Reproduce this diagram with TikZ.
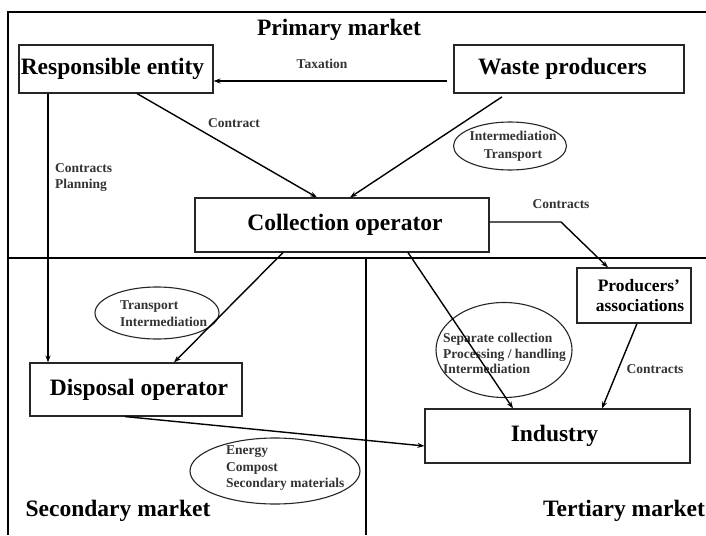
\documentclass[tikz,border=0pt]{standalone}
\usepackage{fontspec}
\setmainfont{Liberation Serif}
\usetikzlibrary{arrows.meta,shapes.geometric}

\begin{document}
\begin{tikzpicture}[x=1pt,y=-1pt,
  box/.style={draw=black!85, line width=1.1pt, inner sep=0pt,
    font=\fontsize{23.5}{26}\selectfont\bfseries, align=center},
  region/.style={font=\fontsize{23.5}{26}\selectfont\bfseries},
  lbl/.style={font=\fontsize{13.5}{16}\selectfont\bfseries, text=black!80, inner sep=0pt},
  bubbletext/.style={font=\fontsize{13.5}{16.5}\selectfont\bfseries, text=black!80,
    inner sep=0pt, align=left},
  bubble/.style={draw=black!85, ellipse, line width=1.1pt, inner sep=0pt},
  frame/.style={line width=1.5pt},
  arr/.style={-{Stealth[length=7pt,width=5pt]}, line width=1.4pt}]

\useasboundingbox (0,0) rectangle (706,535);
\fill[white] (0,0) rectangle (706,535);

% market frame and dividers
\draw[frame] (8,535) -- (8,12) -- (706,12);
\draw[frame] (8,258) -- (706,258);
\draw[frame] (366,258) -- (366,535);

% market names
\node[region] (primary) at (339,30) {Primary market};
\node[region] (secondary) at (118,511) {Secondary market};
\node[region] (tertiary) at (624,511) {Tertiary market};

% actors
\node[box, minimum width=194pt, minimum height=48pt] (resp) at (116,69) {\hspace*{-7pt}Responsible entity};
\node[box, minimum width=230pt, minimum height=48pt] (waste) at (569,69) {\hspace*{-13pt}Waste producers};
\node[box, minimum width=294pt, minimum height=54pt] (coll) at (342,225) {\hspace*{6pt}Collection operator};
\node[box, minimum width=114pt, minimum height=55pt, align=left,
  font=\fontsize{17.5}{20}\selectfont\bfseries] (prod) at (634,295.5) {\hspace*{14pt}Producers'\\\hspace*{12pt}associations};
\node[box, minimum width=212pt, minimum height=53pt] (disp) at (136,389.5) {\hspace*{6pt}Disposal operator};
\node[box, minimum width=265pt, minimum height=54pt] (ind) at (557.5,436) {\hspace*{-6pt}Industry};

% flow bubbles
\node[bubble, minimum width=113pt, minimum height=48pt] (bubWT) at (510,146) {};
\node[bubble, minimum width=124pt, minimum height=52pt] (bubCD) at (157,313) {};
\node[bubble, minimum width=136pt, minimum height=95pt] (bubCI) at (504,350) {};
\node[bubble, minimum width=170pt, minimum height=66pt] (bubDI) at (275,471) {};

\node[bubbletext, align=center, font=\fontsize{13.5}{18}\selectfont\bfseries] (txtWT) at (513,146) {Intermediation\\Transport};
\node[bubbletext, anchor=west] (txtCD) at (120,313.5) {Transport\\Intermediation};
\node[bubbletext, anchor=west, font=\fontsize{13.5}{15.5}\selectfont\bfseries] (txtCI) at (443,353.5) {Separate collection\\Processing / handling\\Intermediation};
\node[bubbletext, anchor=west] (txtDI) at (226,468.5) {Energy\\Compost\\Secondary materials};

% relation labels
\node[lbl] (taxation) at (322,64) {Taxation};
\node[lbl] (contract) at (234,123) {Contract};
\node[lbl, anchor=west, align=left] (contplan) at (55,178) {Contracts\\Planning};
\node[lbl] (contractsA) at (561,204) {Contracts};
\node[lbl] (contractsB) at (655,369) {Contracts};

% relations
\coordinate (bend) at (561,222);
\draw[arr, shorten <=6pt] ([yshift=-12pt]waste.west) -- ([yshift=-12pt]resp.east);
\draw[arr] ([xshift=21pt]resp.south) -- ([xshift=-25pt]coll.north);
\draw[arr, shorten <=6pt] ([xshift=-62pt]waste.south) -- ([xshift=8pt]coll.north);
\draw[arr] ([xshift=-68pt]resp.south) -- ([xshift=-68pt]resp.south |- disp.north);
\draw[arr] ([xshift=-59pt]coll.south) -- ([xshift=38pt]disp.north);
\draw[arr] ([yshift=3pt]coll.east) -- (bend) -- ([xshift=-26pt]prod.north);
\draw[arr] ([xshift=66pt]coll.south) -- ([xshift=-44.5pt]ind.north);
\draw[arr] ([xshift=3pt]prod.south) -- ([xshift=44.5pt]ind.north);
\draw[arr] ([xshift=-11pt]disp.south) -- ([yshift=-10pt]ind.west);
\end{tikzpicture}
\end{document}
